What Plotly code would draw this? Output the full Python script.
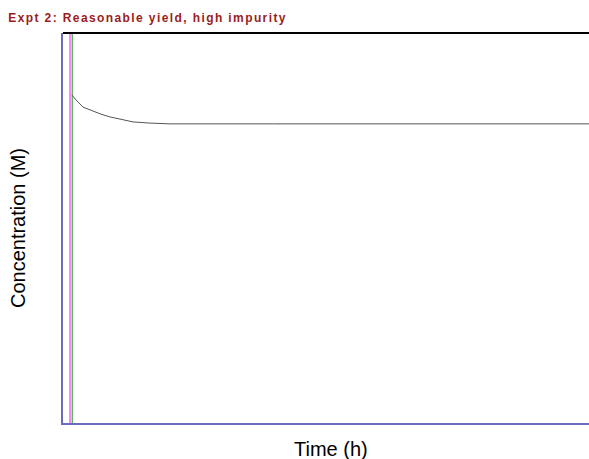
import plotly.graph_objects as go

# Concentration profile (time in h, concentration in M)
time_h = [0.17, 0.25, 0.38, 0.55, 0.72, 0.89, 1.10, 1.33, 1.65, 2.00, 2.03, 4.0, 6.0, 8.0, 10.0]
conc_m = [0.841, 0.828, 0.810, 0.800, 0.792, 0.785, 0.778, 0.772, 0.769, 0.768, 0.767, 0.767, 0.767, 0.767, 0.767]

# Vertical marker lines (time in h)
marker_times = [0.133, 0.175]
marker_colors = ["#ff33ff", "#33aa33"]
y_span = [0, 1]

title_text = "Expt 2: Reasonable yield, high impurity"
x_title = "Time (h)"
y_title = "Concentration (M)"

fig = go.Figure()
for t, c in zip(marker_times, marker_colors):
    fig.add_trace(go.Scatter(x=[t, t], y=y_span, mode="lines",
                             line=dict(color=c, width=1.2), hoverinfo="skip"))
fig.add_trace(go.Scatter(x=time_h, y=conc_m, mode="lines",
                         line=dict(color="#555555", width=1)))

fig.add_shape(type="line", xref="paper", yref="paper", x0=0, x1=1, y0=1, y1=1,
              line=dict(color="black", width=2))

fig.add_annotation(text=x_title, xref="paper", yref="paper", x=0.5095, y=0,
                   yshift=-26, xanchor="center", yanchor="middle", showarrow=False,
                   font=dict(family="Liberation Sans", size=20, color="black"))

fig.update_layout(
    width=589, height=459,
    margin=dict(l=63, r=0, t=33, b=36),
    paper_bgcolor="white", plot_bgcolor="white",
    showlegend=False,
    title=dict(text=title_text, x=0.014, xanchor="left", y=0.961, yanchor="middle",
               font=dict(family="Liberation Sans", size=12, color="#9b1c1c", weight="bold")),
    xaxis=dict(range=[0, 10], showgrid=False, zeroline=False, showticklabels=False,
               ticks="", showline=True, linecolor="#6b6bbf", linewidth=2),
    yaxis=dict(range=[0, 1], showgrid=False, zeroline=False, showticklabels=False,
               ticks="", showline=True, linecolor="#6b6bbf", linewidth=2,
               title=dict(text=y_title, standoff=30,
                          font=dict(family="Liberation Sans", size=20, color="black"))),
)

fig.write_html(
    "out.html",
    post_script="document.querySelectorAll('.gtitle').forEach(function(e){e.style.letterSpacing='1.4px';});",
)
